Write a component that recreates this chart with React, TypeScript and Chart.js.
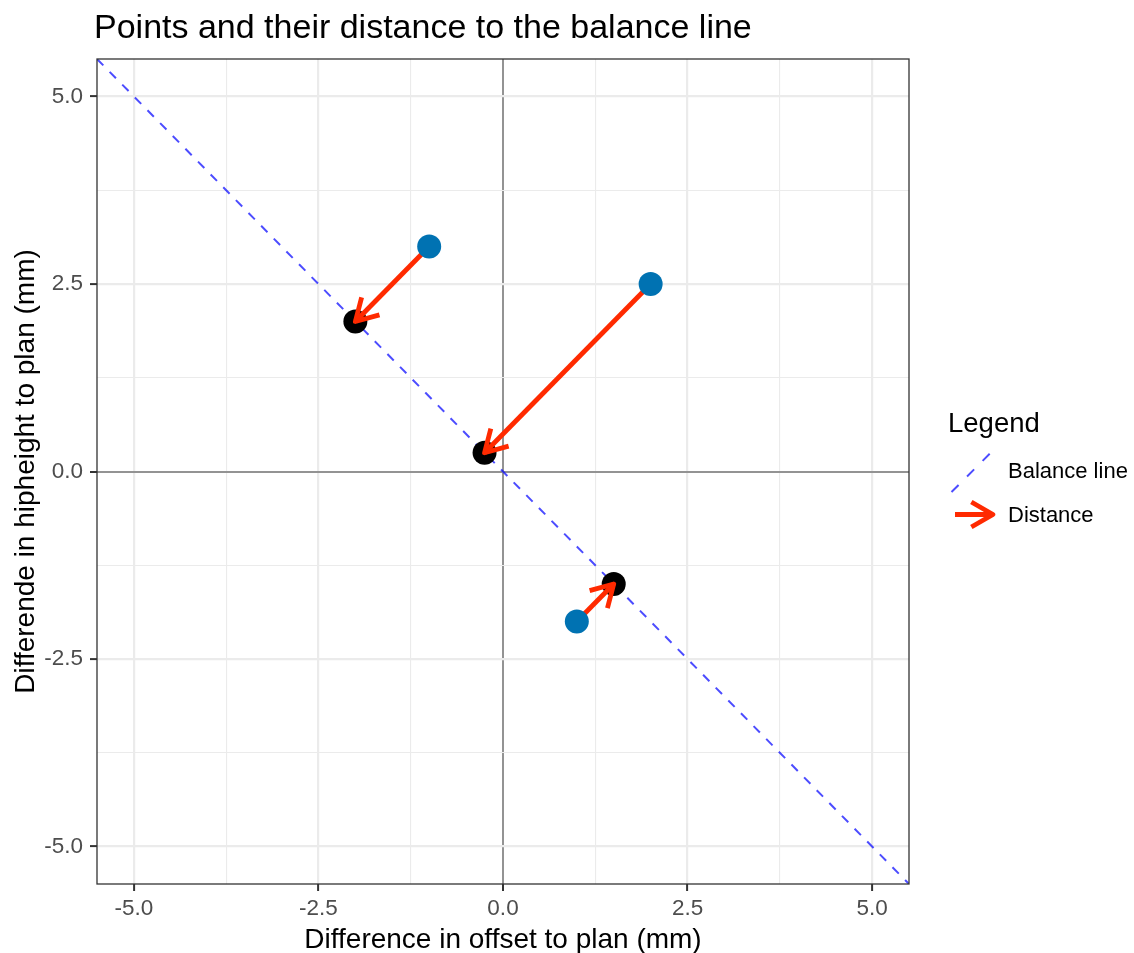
import React, { useEffect, useRef } from "react";
import { Chart, registerables } from "chart.js";

Chart.register(...registerables);

// ---- data ----
const pointX = [-1, 2, 1];
const pointY = [3, 2.5, -2];
const projX = [-2, -0.25, 1.5];
const projY = [2, 0.25, -1.5];
const balanceX = [-5.5, 5.5];
const balanceY = [5.5, -5.5];
const axisMin = -5.5;
const axisMax = 5.5;
const tickStep = 1.25;
const majorStep = 2.5;

const titleText = "Points and their distance to the balance line";
const xTitle = "Difference in offset to plan (mm)";
const yTitle = "Differende in hipheight to plan (mm)";
const legendTitle = "Legend";
const legendLabels = ["Balance line", "Distance"];

// ---- style ----
const FONT = "'Liberation Sans', Arial, Helvetica, sans-serif";
const BLUE_PT = "#0072B2";
const RED = "#FF2A00";
const LINE_BLUE = "rgba(0,0,255,0.7)";
const DASH = [9, 9];
const ARROW_W = 4.8;
const HEAD_LEN = 25;

const isMajor = (v: number) => Math.abs(v / majorStep - Math.round(v / majorStep)) < 1e-6;

function drawHead(ctx: CanvasRenderingContext2D, x1: number, y1: number, x2: number, y2: number) {
  const ang = Math.atan2(y2 - y1, x2 - x1);
  const a = Math.PI / 6;
  ctx.save();
  ctx.strokeStyle = RED;
  ctx.lineWidth = ARROW_W;
  ctx.lineJoin = "round";
  ctx.lineCap = "butt";
  ctx.setLineDash([]);
  ctx.beginPath();
  ctx.moveTo(x2 - HEAD_LEN * Math.cos(ang - a), y2 - HEAD_LEN * Math.sin(ang - a));
  ctx.lineTo(x2, y2);
  ctx.lineTo(x2 - HEAD_LEN * Math.cos(ang + a), y2 - HEAD_LEN * Math.sin(ang + a));
  ctx.stroke();
  ctx.restore();
}

const arrowPlugin = {
  id: "arrowHeads",
  afterDatasetDraw(chart: any, args: any) {
    const ds = chart.data.datasets[args.index];
    if (!ds.isArrow) return;
    const xs = chart.scales.x;
    const ys = chart.scales.y;
    const d = ds.data;
    drawHead(
      chart.ctx,
      xs.getPixelForValue(d[0].x),
      ys.getPixelForValue(d[0].y),
      xs.getPixelForValue(d[1].x),
      ys.getPixelForValue(d[1].y)
    );
  },
};

const decorPlugin = {
  id: "decor",
  afterDraw(chart: any) {
    const ctx: CanvasRenderingContext2D = chart.ctx;
    const a = chart.chartArea;
    ctx.save();
    // panel border
    ctx.strokeStyle = "#333333";
    ctx.lineWidth = 1.3;
    ctx.strokeRect(a.left, a.top, a.right - a.left, a.bottom - a.top);

    // title
    ctx.fillStyle = "#000";
    ctx.textAlign = "left";
    ctx.textBaseline = "alphabetic";
    ctx.font = `34px ${FONT}`;
    ctx.fillText(titleText, 94, 38);

    // legend
    ctx.font = `27.5px ${FONT}`;
    ctx.fillText(legendTitle, 948, 432);
    ctx.font = `22px ${FONT}`;
    ctx.fillText(legendLabels[0], 1008, 478);
    ctx.fillText(legendLabels[1], 1008, 522);

    // legend key: dashed line
    ctx.strokeStyle = LINE_BLUE;
    ctx.lineWidth = 2;
    ctx.setLineDash([10, 12]);
    ctx.lineDashOffset = 0;
    ctx.beginPath();
    ctx.moveTo(951.5, 492);
    ctx.lineTo(990, 453.5);
    ctx.stroke();
    ctx.setLineDash([]);

    // legend key: arrow
    ctx.strokeStyle = RED;
    ctx.lineWidth = ARROW_W;
    ctx.beginPath();
    ctx.moveTo(955, 514.5);
    ctx.lineTo(993, 514.5);
    ctx.stroke();
    drawHead(ctx, 955, 514.5, 993, 514.5);
    ctx.restore();
  },
};

function scaleOptions(axis: "x" | "y") {
  return {
    type: "linear",
    min: axisMin,
    max: axisMax,
    ticks: {
      stepSize: tickStep,
      includeBounds: false,
      autoSkip: false,
      maxRotation: 0,
      color: "#4D4D4D",
      font: { size: 22.5, family: FONT },
      padding: axis === "x" ? 4 : 7,
      callback: (v: number) => (isMajor(v) ? Number(v).toFixed(1) : ""),
    },
    grid: {
      color: (c: any) => {
        const v = c.tick ? c.tick.value : NaN;
        if (Math.abs(v) < 1e-9) return "#939393";
        return "#EBEBEB";
      },
      lineWidth: (c: any) => {
        const v = c.tick ? c.tick.value : NaN;
        if (Math.abs(v) < 1e-9) return 2;
        return isMajor(v) ? 2.2 : 1.1;
      },
      tickLength: 7,
      tickColor: (c: any) => {
        const v = c.tick ? c.tick.value : NaN;
        return isMajor(v) ? "#333333" : "rgba(0,0,0,0)";
      },
      tickWidth: 2,
    },
    border: { display: false },
    title: {
      display: true,
      text: axis === "x" ? xTitle : yTitle,
      color: "#000",
      font: { size: 28, family: FONT },
      padding: axis === "x" ? { top: 0, bottom: -4 } : { top: 9, bottom: 0 },
    },
    afterFit: (s: any) => {
      if (axis === "x") s.height = 69;
      else s.width = 97;
    },
  };
}

export default function App() {
  const ref = useRef<HTMLCanvasElement | null>(null);

  useEffect(() => {
    document.body.style.margin = "0";
    if (!ref.current) return;

    const bluePts = pointX.map((x, i) => ({ x, y: pointY[i] }));
    const blackPts = projX.map((x, i) => ({ x, y: projY[i] }));
    const balancePts = balanceX.map((x, i) => ({ x, y: balanceY[i] }));

    const arrowSets = pointX.map((x, i) => ({
      type: "line",
      isArrow: true,
      data: [
        { x, y: pointY[i] },
        { x: projX[i], y: projY[i] },
      ],
      borderColor: RED,
      borderWidth: ARROW_W,
      pointRadius: 0,
      fill: false,
      tension: 0,
      borderCapStyle: "butt",
    }));

    const chart = new Chart(ref.current, {
      type: "scatter",
      data: {
        datasets: [
          {
            type: "scatter",
            data: bluePts,
            backgroundColor: BLUE_PT,
            borderWidth: 0,
            pointRadius: 12,
          },
          ...arrowSets,
          {
            type: "scatter",
            data: blackPts,
            backgroundColor: "#000000",
            borderWidth: 0,
            pointRadius: 12,
          },
          {
            type: "line",
            data: balancePts,
            borderColor: LINE_BLUE,
            borderWidth: 2,
            borderDash: DASH,
            pointRadius: 0,
            fill: false,
          },
        ] as any,
      },
      options: {
        animation: false,
        responsive: false,
        events: [],
        layout: { padding: { left: 0, top: 59, right: 225, bottom: 0 } },
        plugins: {
          legend: { display: false },
          tooltip: { enabled: false },
          title: { display: false },
        },
        scales: {
          x: scaleOptions("x") as any,
          y: scaleOptions("y") as any,
        },
      },
      plugins: [arrowPlugin, decorPlugin],
    });

    return () => chart.destroy();
  }, []);

  return (
    <div style={{ width: 1134, height: 953, position: "relative", background: "#fff" }}>
      <canvas ref={ref} width={1134} height={953} style={{ display: "block" }} />
    </div>
  );
}
